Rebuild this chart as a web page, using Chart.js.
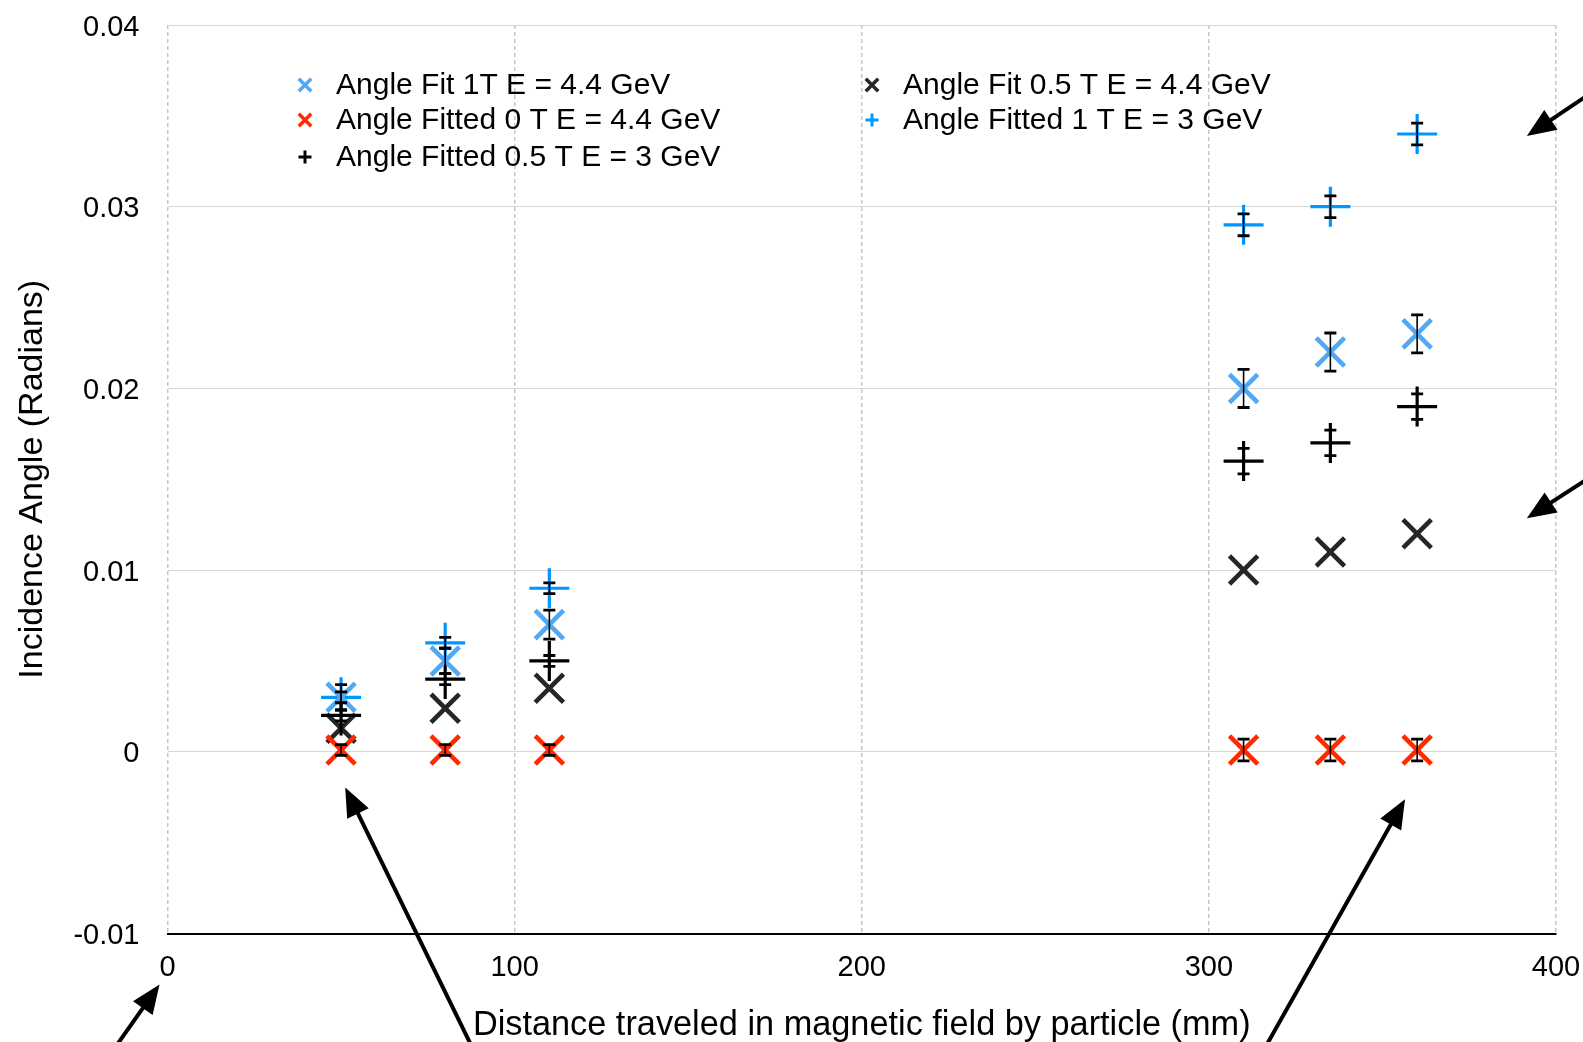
<!DOCTYPE html>
<html lang="en">
<head>
<meta charset="UTF-8">
<title>Incidence Angle vs Distance</title>
<script src="https://cdn.jsdelivr.net/npm/chart.js@4"></script>
<style>
    html, body { margin: 0; padding: 0; background: #ffffff; }
    .chart-container { position: relative; width: 1583px; height: 1042px; }
</style>
</head>
<body>
<div class="chart-container"><canvas id="chartCanvas" width="1583" height="1042"></canvas></div>
<script>
// distances (mm) shared by every series
const distances = [50, 80, 110, 310, 335, 360];

// incidence angles (radians) and their error bars
const fit1T = [0.003, 0.005, 0.007, 0.020, 0.022, 0.023];
const fit1TErr = [0.0007, 0.0007, 0.0008, 0.00105, 0.00105, 0.00105];

const fitted0T = [0.0001, 0.0001, 0.0001, 0.0001, 0.0001, 0.0001];
const fitted0TErr = [0.0003, 0.0003, 0.0003, 0.0006, 0.0006, 0.0006];

const fitted05T3GeV = [0.002, 0.004, 0.005, 0.016, 0.017, 0.019];
const fitted05T3GeVErr = [0.0003, 0.0003, 0.0003, 0.0007, 0.0007, 0.0007];

const fit05T = [0.0013, 0.0024, 0.0035, 0.010, 0.011, 0.012];

const fitted1T3GeV = [0.003, 0.006, 0.009, 0.029, 0.030, 0.034];
const fitted1T3GeVErr = [0.0003, 0.0003, 0.0003, 0.0006, 0.0006, 0.0006];

const seriesLabels = [
    'Angle Fit 1T E = 4.4 GeV',
    'Angle Fitted 0 T E = 4.4 GeV',
    'Angle Fitted 0.5 T E = 3 GeV',
    'Angle Fit 0.5 T E = 4.4 GeV',
    'Angle Fitted 1 T E = 3 GeV'
];

const xTickValues = [0, 100, 200, 300, 400];
const yTickValues = [-0.01, 0, 0.01, 0.02, 0.03, 0.04];

// annotation arrows, [tailX, tailY, tipX, tipY] in data units
const arrows = [
    [415.9, 0.0370, 391.6, 0.03389],
    [415.9, 0.01587, 391.6, 0.01285],
    [-16.3, -0.0166, -2.3, -0.0128],
    [88.8, -0.01667, 51.2, -0.00196],
    [315.2, -0.01662, 356.5, -0.00261]
];

const FONT = "'Liberation Sans', Arial, Helvetica, sans-serif";

function toPoints(values) {
    return distances.map((d, i) => ({ x: d, y: values[i] }));
}

function drawMark(ctx, style, cx, cy, r, lw, color) {
    ctx.save();
    ctx.strokeStyle = color;
    ctx.lineWidth = lw;
    ctx.beginPath();
    if (style === 'crossRot') {
        const d = r * Math.SQRT1_2;
        ctx.moveTo(cx - d, cy - d); ctx.lineTo(cx + d, cy + d);
        ctx.moveTo(cx + d, cy - d); ctx.lineTo(cx - d, cy + d);
    } else {
        ctx.moveTo(cx - r, cy); ctx.lineTo(cx + r, cy);
        ctx.moveTo(cx, cy - r); ctx.lineTo(cx, cy + r);
    }
    ctx.stroke();
    ctx.restore();
}

// black error bars drawn over the markers
const errorBars = {
    id: 'errorBars',
    afterDatasetsDraw(chart) {
        const { ctx, scales: { x, y } } = chart;
        ctx.save();
        ctx.strokeStyle = '#000';
        chart.data.datasets.forEach(ds => {
            if (!ds.errors) return;
            ds.data.forEach((pt, j) => {
                const px = x.getPixelForValue(pt.x);
                const top = y.getPixelForValue(pt.y + ds.errors[j]);
                const bot = y.getPixelForValue(pt.y - ds.errors[j]);
                ctx.lineWidth = 1.6;
                ctx.beginPath();
                ctx.moveTo(px, top); ctx.lineTo(px, bot);
                ctx.stroke();
                ctx.lineWidth = 2.8;
                ctx.beginPath();
                ctx.moveTo(px - 6, top); ctx.lineTo(px + 6, top);
                ctx.moveTo(px - 6, bot); ctx.lineTo(px + 6, bot);
                ctx.stroke();
            });
        });
        ctx.restore();
    }
};

// two-column legend, filled row by row
const legendSlots = [[0, 0], [1, 0], [2, 0], [0, 1], [1, 1]];
const columnLegend = {
    id: 'columnLegend',
    afterDraw(chart) {
        const ctx = chart.ctx;
        const colX = [305, 872];
        const rowY = [86, 121, 158];
        ctx.save();
        ctx.font = '30px ' + FONT;
        ctx.fillStyle = '#000';
        ctx.textBaseline = 'middle';
        chart.data.datasets.forEach((ds, i) => {
            const [row, col] = legendSlots[i];
            const mx = colX[col], my = rowY[row];
            if (ds.pointStyle === 'crossRot') drawMark(ctx, 'crossRot', mx, my - 1, 8.8, 3.5, ds.borderColor);
            else drawMark(ctx, 'cross', mx, my - 1, 6.5, 3, ds.borderColor);
            ctx.fillText(ds.label, mx + 31, my);
        });
        ctx.restore();
    }
};

const arrowLayer = {
    id: 'arrowLayer',
    afterDraw(chart) {
        const { ctx, scales: { x, y } } = chart;
        ctx.save();
        ctx.strokeStyle = '#000';
        ctx.fillStyle = '#000';
        ctx.lineWidth = 4;
        arrows.forEach(a => {
            const x1 = x.getPixelForValue(a[0]), y1 = y.getPixelForValue(a[1]);
            const x2 = x.getPixelForValue(a[2]), y2 = y.getPixelForValue(a[3]);
            const ang = Math.atan2(y2 - y1, x2 - x1);
            const len = 29, half = 12;
            const bx = x2 - Math.cos(ang) * len, by = y2 - Math.sin(ang) * len;
            ctx.beginPath();
            ctx.moveTo(x1, y1); ctx.lineTo(bx + Math.cos(ang) * 4, by + Math.sin(ang) * 4);
            ctx.stroke();
            ctx.beginPath();
            ctx.moveTo(x2, y2);
            ctx.lineTo(bx - Math.sin(ang) * half, by + Math.cos(ang) * half);
            ctx.lineTo(bx + Math.sin(ang) * half, by - Math.cos(ang) * half);
            ctx.closePath();
            ctx.fill();
        });
        ctx.restore();
    }
};

function series(label, values, errors, style, color, width) {
    return {
        label: label,
        data: toPoints(values),
        errors: errors,
        pointStyle: style,
        pointRadius: 20,
        pointHoverRadius: 20,
        pointBorderWidth: width,
        pointHoverBorderWidth: width,
        borderColor: color,
        backgroundColor: color,
        showLine: false
    };
}

const ctx = document.getElementById('chartCanvas').getContext('2d');
new Chart(ctx, {
    type: 'scatter',
    data: {
        datasets: [
            series(seriesLabels[0], fit1T, fit1TErr, 'crossRot', '#52a8f2', 4.6),
            series(seriesLabels[1], fitted0T, fitted0TErr, 'crossRot', '#ff2a00', 4.6),
            series(seriesLabels[2], fitted05T3GeV, fitted05T3GeVErr, 'cross', '#000000', 3.2),
            series(seriesLabels[3], fit05T, null, 'crossRot', '#262626', 4.6),
            series(seriesLabels[4], fitted1T3GeV, fitted1T3GeVErr, 'cross', '#0096ff', 3.2)
        ]
    },
    options: {
        responsive: false,
        animation: false,
        layout: { padding: { top: 25, right: 27, left: 0, bottom: 0 } },
        plugins: {
            legend: { display: false },
            tooltip: { enabled: false }
        },
        scales: {
            x: {
                type: 'linear',
                min: 0,
                max: 400,
                afterBuildTicks: scale => { scale.ticks = xTickValues.map(v => ({ value: v })); },
                afterFit: scale => {
                    scale.height = 108.5;
                    scale.paddingLeft = 0;
                    scale.paddingRight = 0;
                },
                grid: { color: '#c6c6c6', lineWidth: 1.5, drawTicks: false },
                border: { display: true, color: '#000', width: 2, dash: [4, 3] },
                ticks: { color: '#000', padding: 17, font: { family: FONT, size: 29 } },
                title: {
                    display: true,
                    text: 'Distance traveled in magnetic field by particle (mm)',
                    color: '#000',
                    font: { family: FONT, size: 34.3, lineHeight: 0.95 },
                    padding: { top: 0, bottom: 0 }
                }
            },
            y: {
                min: -0.01,
                max: 0.04,
                afterBuildTicks: scale => { scale.ticks = yTickValues.map(v => ({ value: v })); },
                afterFit: scale => {
                    scale.width = 167.5;
                    scale.paddingTop = 0;
                    scale.paddingBottom = 0;
                },
                grid: { color: '#d6d6d6', lineWidth: 1, drawTicks: false },
                border: { display: false },
                ticks: {
                    color: '#000',
                    padding: 28,
                    labelOffset: 2.5,
                    font: { family: FONT, size: 29 },
                    callback: v => Number(v.toFixed(2)).toString()
                },
                title: {
                    display: true,
                    text: 'Incidence Angle (Radians)',
                    color: '#000',
                    font: { family: FONT, size: 34, lineHeight: 1 },
                    padding: { top: 16, bottom: 0 }
                }
            }
        }
    },
    plugins: [errorBars, columnLegend, arrowLayer]
});
</script>
</body>
</html>
